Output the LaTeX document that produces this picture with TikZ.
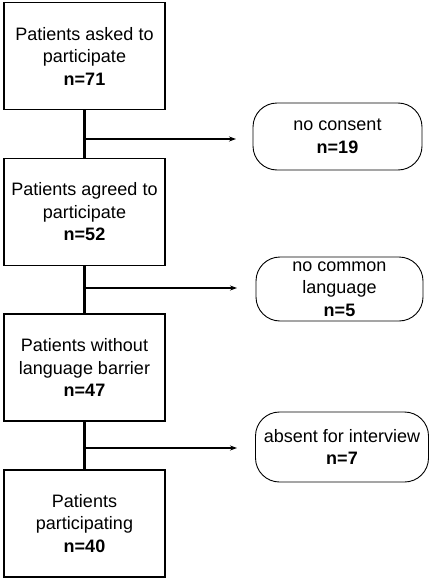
\documentclass[tikz,border=0pt]{standalone}
\usepackage{fontspec}
\setmainfont{Liberation Sans}
\usetikzlibrary{arrows.meta}
\begin{document}
\begin{tikzpicture}[x=1pt,y=-1pt,
  every node/.style={font=\fontsize{18}{22.5}\selectfont, align=center, inner sep=0pt},
  stagebox/.style={draw, line width=1.2pt, minimum width=161pt, minimum height=107pt},
  dropbox/.style={draw, line width=0.9pt, rounded corners=24pt},
  trunk/.style={line width=2.4pt},
  branch/.style={line width=1.1pt, -{Stealth[length=7pt,width=5pt]}}
]
\useasboundingbox (0,0) rectangle (430,578);

% main stages
\node[stagebox] (s1) at (84.5,56)    {Patients asked to\\participate\\\textbf{n=71}};
\node[stagebox] (s2) at (84.5,212)   {Patients agreed to\\participate\\\textbf{n=52}};
\node[stagebox] (s3) at (84.5,367.5) {Patients without\\language barrier\\\textbf{n=47}};
\node[stagebox] (s4) at (84.5,523.5) {Patients\\participating\\\textbf{n=40}};

% exclusions
\node[dropbox, minimum width=169pt, minimum height=67pt] (x1) at (337.5,136.5) {no consent\\\textbf{n=19}};
\node[dropbox, minimum width=167pt, minimum height=64pt] (x2) at (339.5,289) {no common\\language\\\textbf{n=5}};
\node[dropbox, minimum width=173pt, minimum height=70pt] (x3) at (342,447) {absent for interview\\\textbf{n=7}};

% branch points on the trunk and arrow ends
\coordinate (j1) at (84.5,139);
\coordinate (j2) at (84.5,288);
\coordinate (j3) at (84.5,448);
\coordinate (t1) at (236,139);
\coordinate (t2) at (237,288);
\coordinate (t3) at (237,448);

% trunk
\draw[trunk] (s1.south) -- (s2.north);
\draw[trunk] (s2.south) -- (s3.north);
\draw[trunk] (s3.south) -- (s4.north);

% branches
\draw[branch] (j1) -- (t1);
\draw[branch] (j2) -- (t2);
\draw[branch] (j3) -- (t3);
\end{tikzpicture}
\end{document}
